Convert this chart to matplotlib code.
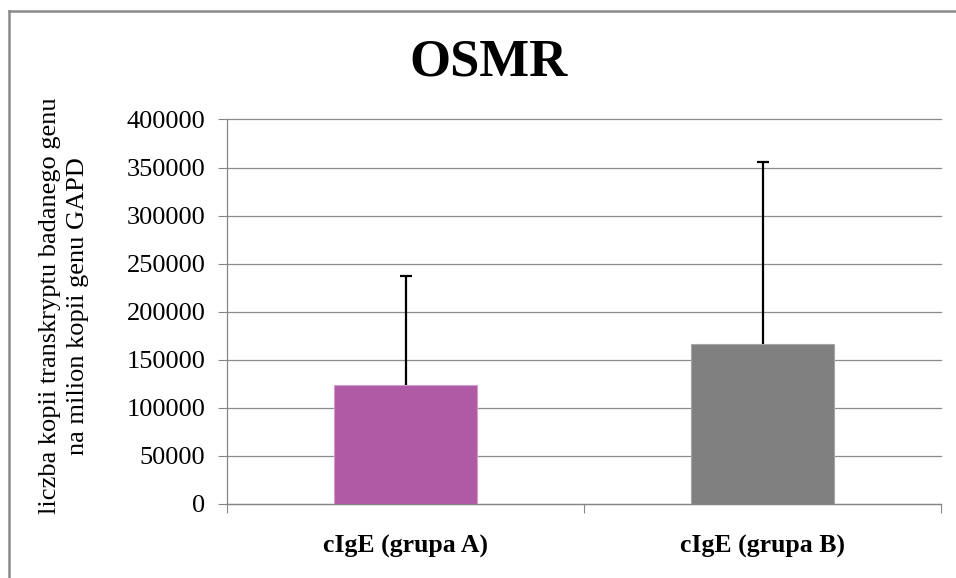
import numpy as np
import matplotlib
matplotlib.use("Agg")
import matplotlib.pyplot as plt
from matplotlib.lines import Line2D

# Data
groups = ["cIgE (grupa A)", "cIgE (grupa B)"]
means = [124000, 166500]
sd_upper = [113000, 189000]
bar_colors = ["#B05AA5", "#808080"]
edge_colors = ["#D39BCA", "#A5A5A5"]
y_ticks = [0, 50000, 100000, 150000, 200000, 250000, 300000, 350000, 400000]

plt.rcParams["font.family"] = ["Liberation Serif", "DejaVu Serif"]

W, H = 956, 578
fig = plt.figure(figsize=(W / 100, H / 100), dpi=100)
fig.patch.set_facecolor("white")

# chart frame (top and left edges; the rest runs past the image)
fx, fy = 8.5 / W, 1 - 11 / H
fig.add_artist(Line2D([fx, 1.05], [fy, fy], transform=fig.transFigure,
                      color="#8a8a8a", linewidth=1.8, clip_on=False))
fig.add_artist(Line2D([fx, fx], [-0.05, fy], transform=fig.transFigure,
                      color="#8a8a8a", linewidth=1.8, clip_on=False))

ax = fig.add_axes([227 / W, 1 - 504 / H, (941 - 227) / W, (504 - 119.5) / H])

x = np.arange(len(groups))
ax.bar(x, means, width=0.4, color=bar_colors, edgecolor=edge_colors,
       linewidth=0.8, zorder=3)
eb = ax.errorbar(x, means, yerr=[[0] * len(means), sd_upper], fmt="none",
                 ecolor="black", elinewidth=1.6, capsize=4.5, capthick=1.6,
                 zorder=4)
# only the upper cap is shown
caps = eb[1]
if len(caps) == 2:
    caps[0].set_visible(False)

ax.set_xlim(-0.5, len(groups) - 0.5)
ax.set_ylim(0, 400000)
ax.set_yticks(y_ticks)
ax.set_yticklabels([str(v) for v in y_ticks], fontsize=19)

# category boundaries as major ticks, names as minor tick labels
ax.set_xticks(np.arange(len(groups) + 1) - 0.5)
ax.set_xticklabels([])
ax.set_xticks(x, minor=True)
ax.set_xticklabels(groups, minor=True, fontsize=18.5, fontweight="bold")
ax.tick_params(axis="x", which="major", length=6.5, color="#868686", direction="out")
ax.tick_params(axis="x", which="minor", length=0, pad=22)
ax.tick_params(axis="y", length=6.5, color="#868686", direction="out", pad=9)

ax.yaxis.grid(True, color="#8c8c8c", linewidth=0.9)
for gl in ax.get_ygridlines():
    gl.set_clip_on(False)
ax.set_axisbelow(True)
for side in ("top", "right"):
    ax.spines[side].set_visible(False)
for side in ("left", "bottom"):
    ax.spines[side].set_color("#868686")
    ax.spines[side].set_linewidth(0.9)

fig.text(489 / W, 1 - 62 / H, "OSMR", fontsize=38, fontweight="bold",
         ha="center", va="center")
fig.text(64 / W, 1 - 306 / H,
         "liczba kopii transkryptu badanego genu\nna milion kopii genu GAPD",
         fontsize=19, rotation=90, ha="center", va="center",
         multialignment="center", linespacing=1.3)

fig.savefig("out.png", dpi=100, facecolor="white")
